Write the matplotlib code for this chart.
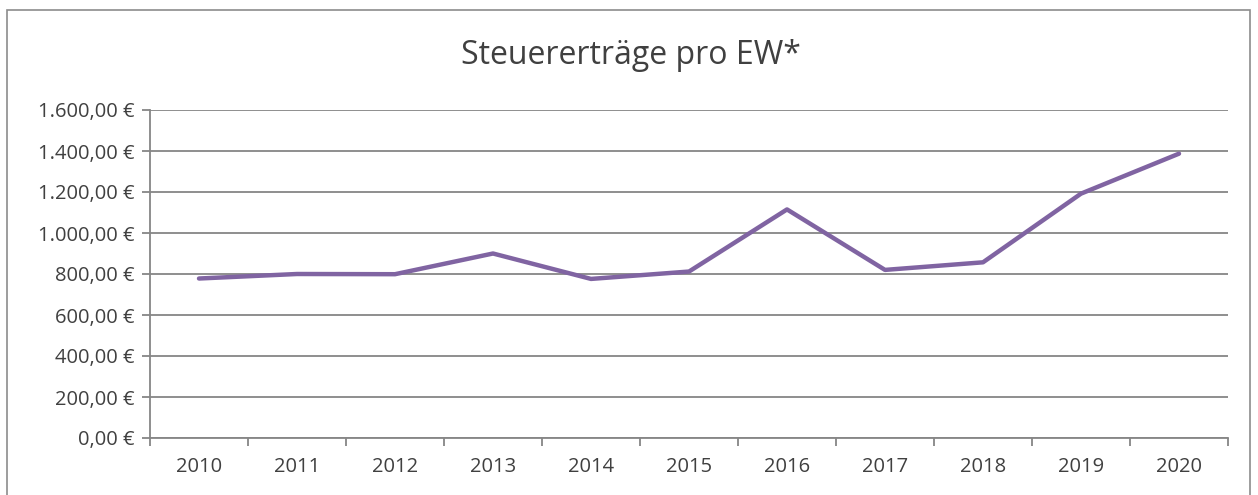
import matplotlib.pyplot as plt
from matplotlib.patches import Rectangle
from matplotlib.ticker import FuncFormatter, FixedLocator

# --- Data ---
years = ['2010', '2011', '2012', '2013', '2014', '2015',
         '2016', '2017', '2018', '2019', '2020']
revenue = [778, 800, 799, 900, 776, 812, 1115, 820, 857, 1192, 1387]

plt.rcParams['font.family'] = ['Open Sans', 'DejaVu Sans']

def euro(v, pos):
    s = f"{v:,.2f}".replace(',', 'X').replace('.', ',').replace('X', '.')
    return s + " €"

fig = plt.figure(figsize=(12.58, 4.95), dpi=100)
ax = fig.add_axes([150 / 1258, 1 - 438 / 495, 1078 / 1258, 328 / 495])

# chart border
fig.patches.append(Rectangle((7 / 1258, -0.05), 1243 / 1258, 1 - 10 / 495 + 0.05,
                             transform=fig.transFigure, fill=False,
                             edgecolor='#8c8c8c', linewidth=1.2))

x = list(range(len(years)))
ax.plot(x, revenue, color='#8064A2', linewidth=3.2, solid_capstyle='round')

ax.set_xlim(-0.5, len(years) - 0.5)
ax.set_ylim(0, 1600)
ax.set_yticks(range(0, 1601, 200))
ax.yaxis.set_major_formatter(FuncFormatter(euro))
ax.grid(axis='y', color='#868686', linewidth=1.3)
ax.set_axisbelow(True)

# category labels centered, tick marks between categories
ax.set_xticks(x)
ax.set_xticklabels(years)
ax.tick_params(axis='x', which='major', length=0, pad=14)
ax.xaxis.set_minor_locator(FixedLocator([i - 0.5 for i in range(len(years) + 1)]))
ax.tick_params(axis='x', which='minor', length=6, width=1.3, color='#868686')
ax.tick_params(axis='y', length=6, width=1.3, color='#868686', pad=5)
ax.tick_params(labelsize=14.5, labelcolor='#404040')

for side in ['top', 'right']:
    ax.spines[side].set_visible(False)
for side in ['left', 'bottom']:
    ax.spines[side].set_color('#868686')
    ax.spines[side].set_linewidth(1.3)

fig.text(631 / 1258, 1 - 55 / 495, 'Steuererträge pro EW*', ha='center', va='center',
         fontsize=23, color='#404040')

fig.savefig('out.png', dpi=100)
